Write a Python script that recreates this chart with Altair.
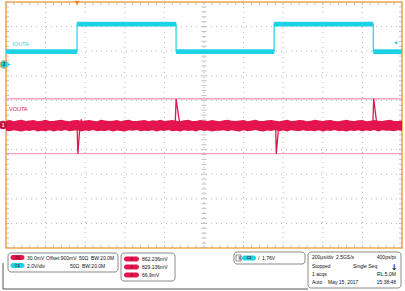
import altair as alt
import pandas as pd

# ---------------- scope settings (from the readout) ----------------
CH1_SCALE_MV = 30.0      # mV/div
CH1_OFFSET_MV = 900.0    # mV at channel position
CH1_POS_DIV = 0.0
CH2_SCALE_V = 2.0        # V/div
CH2_POS_DIV = 2.46
TRIG_LEVEL_V = 1.76
TRIG_TIME_US = -641

# ---------------- IOUTA (CH2) ----------------
ch2_t = [-1000, -641, -641, -141, -141, 354, 354, 855, 855, 1000]
ch2_v = [1.04, 1.04, 3.28, 3.28, 1.04, 1.04, 3.28, 3.28, 1.04, 1.04]
ch2_flat_start = [-1000, -641, -141, 354, 855]
ch2_flat_end = [-641, -141, 354, 855, 1000]
ch2_flat_v = [1.04, 3.28, 1.04, 3.28, 1.04]

# ---------------- VOUTA (CH1) noise envelope, mV ----------------
env_t = list(range(-1000, 1001, 20))
env_top_mv = [905.2, 906.0, 904.7, 905.8, 906.4, 904.9, 905.5, 906.1, 904.6, 905.3,
              906.3, 905.0, 904.8, 905.9, 906.5, 905.1, 904.5, 905.7, 906.2, 904.9,
              905.4, 906.0, 905.2, 904.7, 906.4, 905.6, 904.9, 905.3, 906.1, 904.6,
              905.8, 906.3, 905.0, 904.8, 905.5, 906.2, 904.7, 905.9, 905.1, 906.4,
              904.9, 905.4, 906.0, 905.2, 904.6, 905.7, 906.3, 905.0, 904.8, 906.1,
              905.5, 904.9, 906.2, 905.3, 904.7, 905.8, 906.5, 905.1, 904.9, 905.6,
              906.0, 904.6, 905.4, 906.3, 905.0, 904.8, 905.9, 906.2, 905.3, 904.7,
              905.5, 906.4, 904.9, 905.2, 906.0, 905.7, 904.6, 905.1, 906.3, 905.4,
              904.8, 905.9, 906.1, 905.0, 904.7, 905.6, 906.4, 905.2, 904.9, 905.8,
              906.0, 904.6, 905.3, 906.2, 905.1, 904.8, 905.7, 906.3, 905.0, 904.9,
              905.6]
env_bot_mv = [893.0, 892.3, 893.7, 892.6, 892.0, 893.4, 892.8, 893.9, 892.2, 893.1,
              892.5, 893.6, 892.1, 893.3, 892.7, 893.8, 892.4, 892.9, 893.5, 892.0,
              893.2, 892.6, 893.9, 892.3, 893.0, 892.8, 893.6, 892.1, 893.4, 892.7,
              892.2, 893.5, 892.9, 893.8, 892.4, 893.1, 892.6, 893.7, 892.0, 893.3,
              892.8, 893.9, 892.5, 893.0, 892.2, 893.6, 892.7, 893.2, 892.1, 893.8,
              892.6, 893.4, 892.0, 893.1, 892.9, 893.7, 892.3, 893.5, 892.8, 892.2,
              893.6, 892.4, 893.0, 893.9, 892.7, 892.1, 893.3, 892.6, 893.8, 892.5,
              893.2, 892.0, 893.5, 892.9, 892.3, 893.7, 892.8, 893.1, 892.4, 893.6,
              892.2, 893.4, 892.7, 893.9, 892.5, 893.0, 892.1, 893.3, 892.8, 893.7,
              892.3, 893.2, 892.6, 893.8, 892.0, 893.5, 892.9, 893.1, 892.4, 893.6,
              892.7]

# transient spikes on VOUTA
spike_id = [1, 1, 1, 1, 1, 2, 2, 2, 3, 3, 3, 4, 4, 4]
spike_t = [-641, -637, -628, -620, -614, -145, -141, -121, 362, 365, 376, 853, 857, 874]
spike_mv = [897, 865, 895, 907, 900, 902, 932, 899, 897, 865, 895, 902, 932, 899]

# cursor levels (mV)
cursor_mv = [931.95, 865.05]

# readout texts
meas_values = ["862.236mV", "829.136mV", "66.9mV"]

RED = "#e3144e"
CYAN = "#1cd3e4"
PINK = "#f4a2c0"
ORANGE = "#f2a848"
GRID = "#b8b8b8"
FONT = "Liberation Sans"
TXT = "#111111"


def ch1_div(mv):
    return CH1_POS_DIV + (mv - CH1_OFFSET_MV) / CH1_SCALE_MV


def ch2_div(v):
    return CH2_POS_DIV + v / CH2_SCALE_V


xs = alt.Scale(domain=[-1000, 1000], nice=False, zero=False)
ys = alt.Scale(domain=[-5, 5], nice=False, zero=False)
X = lambda f: alt.X(f, type="quantitative", scale=xs, axis=None)
Y = lambda f: alt.Y(f, type="quantitative", scale=ys, axis=None)

# ---------------- graticule ----------------
major_t = [k * 200 for k in range(-4, 5)]
major_d = [k for k in range(-4, 5)]
minor_t = [k * 40 for k in range(-25, 26)]
minor_d = [k * 0.2 for k in range(-25, 26)]

vgrid = alt.Chart(pd.DataFrame({"t": major_t})).mark_rule(
    color=GRID, strokeDash=[1, 4], strokeWidth=1).encode(x=X("t"))
hgrid = alt.Chart(pd.DataFrame({"d": major_d})).mark_rule(
    color=GRID, strokeDash=[1, 4], strokeWidth=1).encode(y=Y("d"))

tb = pd.DataFrame({"t": minor_t * 3,
                   "d": [5] * len(minor_t) + [-5] * len(minor_t) + [0] * len(minor_t),
                   "s": [6] * (2 * len(minor_t)) + [5] * len(minor_t)})
vticks = alt.Chart(tb).mark_tick(orient="vertical", thickness=1, color="#a8a8a8",
                                 clip=True).encode(x=X("t"), y=Y("d"),
                                                   size=alt.Size("s:Q", scale=None, legend=None))
lr = pd.DataFrame({"d": minor_d * 3,
                   "t": [-1000] * len(minor_d) + [1000] * len(minor_d) + [0] * len(minor_d),
                   "s": [6] * (2 * len(minor_d)) + [5] * len(minor_d)})
hticks = alt.Chart(lr).mark_tick(orient="horizontal", thickness=1, color="#a8a8a8",
                                 clip=True).encode(x=X("t"), y=Y("d"),
                                                   size=alt.Size("s:Q", scale=None, legend=None))

# ---------------- traces ----------------
cur = pd.DataFrame({"d": [ch1_div(v) for v in cursor_mv]})
cursors = alt.Chart(cur).mark_rule(color=PINK, strokeWidth=1.4).encode(y=Y("d"))

c2 = pd.DataFrame({"t": ch2_t, "d": [ch2_div(v) for v in ch2_v], "o": range(len(ch2_t))})
c2_line = alt.Chart(c2).mark_line(color=CYAN, strokeWidth=1.2).encode(
    x=X("t"), y=Y("d"), order="o:Q")
c2f = pd.DataFrame({"t": ch2_flat_start, "t2": ch2_flat_end,
                    "d": [ch2_div(v) for v in ch2_flat_v]})
c2_flat = alt.Chart(c2f).mark_rule(color=CYAN, strokeWidth=4.8, strokeCap="butt").encode(
    x=X("t"), x2="t2:Q", y=Y("d"))

env = pd.DataFrame({"t": env_t, "top": [ch1_div(v) for v in env_top_mv],
                    "bot": [ch1_div(v) for v in env_bot_mv]})
c1_band = alt.Chart(env).mark_area(color=RED, opacity=1).encode(
    x=X("t"), y=Y("top"), y2="bot:Q")
sp = pd.DataFrame({"id": spike_id, "t": spike_t, "d": [ch1_div(v) for v in spike_mv],
                   "o": range(len(spike_t))})
c1_spikes = alt.Chart(sp).mark_line(color=RED, strokeWidth=1.3).encode(
    x=X("t"), y=Y("d"), detail="id:N", order="o:Q")

# ---------------- labels and markers ----------------
lab = pd.DataFrame({"t": [-968, -985], "d": [3.30, 0.65], "txt": ["IOUTA", "VOUTA"],
                    "c": [CYAN, RED]})
labels = alt.Chart(lab).mark_text(align="left", baseline="middle", fontSize=5.5,
                                  font=FONT).encode(
    x=X("t"), y=Y("d"), text="txt:N", color=alt.Color("c:N", scale=None))

gnd = pd.DataFrame({"t": [-1010, -1015], "d": [CH2_POS_DIV, CH1_POS_DIV],
                    "fill": [CYAN, "#c0103e"], "stroke": [ORANGE, "#c0103e"],
                    "txt": ["2", "1"], "tc": ["#0a4a55", "#ffffff"]})
gnd_pts = alt.Chart(gnd).mark_point(shape="circle", filled=False, size=60, strokeWidth=1,
                                    opacity=1).encode(
    x=X("t"), y=Y("d"), fill=alt.Fill("fill:N", scale=None),
    stroke=alt.Stroke("stroke:N", scale=None))
gnd_txt = alt.Chart(gnd).mark_text(fontSize=5, font=FONT, fontWeight="bold").encode(
    x=X("t"), y=Y("d"), text="txt:N", color=alt.Color("tc:N", scale=None))
gnd_arrow = alt.Chart(pd.DataFrame({"t": [-982], "d": [CH2_POS_DIV]})).mark_point(
    shape="triangle-right", filled=True, size=10, color=CYAN, opacity=1).encode(
    x=X("t"), y=Y("d"))

trig_pos = alt.Chart(pd.DataFrame({"t": [TRIG_TIME_US], "d": [4.96]})).mark_point(
    shape="triangle-down", filled=True, size=28, color="#f08a30", opacity=1).encode(
    x=X("t"), y=Y("d"))
trig_lvl = alt.Chart(pd.DataFrame({"t": [968], "d": [ch2_div(TRIG_LEVEL_V)]})).mark_point(
    shape="triangle-left", filled=True, size=12, color=CYAN, opacity=1).encode(
    x=X("t"), y=Y("d"))

plot = alt.layer(vgrid, hgrid, vticks, hticks, cursors, c2_line, c2_flat, c1_band,
                 c1_spikes, labels, gnd_pts, gnd_txt, gnd_arrow, trig_pos, trig_lvl)

# ---------------- readout panel (pixel layout) ----------------
px = alt.Scale(domain=[6, 402], nice=False, zero=False)
py = alt.Scale(domain=[2, 248], nice=False, zero=False, reverse=True)
PX = lambda f: alt.X(f, type="quantitative", scale=px, axis=None)
PY = lambda f: alt.Y(f, type="quantitative", scale=py, axis=None)

frame = pd.DataFrame({"x": [3, 3], "x2": [3, 308], "y": [263, 289], "y2": [289, 289]})
frame_layer = alt.Chart(frame).mark_rule(color="#555555", strokeWidth=1).encode(
    x=PX("x"), x2="x2:Q", y=PY("y"), y2="y2:Q")

boxes = pd.DataFrame({"x": [8, 121, 234, 308], "x2": [118, 175, 305, 401],
                      "y": [253, 253, 252, 252], "y2": [272, 281, 264, 288]})
box_layer = alt.Chart(boxes).mark_rect(cornerRadius=3, fill="white", stroke="#8a8a8a",
                                       strokeWidth=1).encode(
    x=PX("x"), x2="x2:Q", y=PY("y"), y2="y2:Q")

pills = pd.DataFrame({
    "x": [10.5, 10.5, 124, 124, 124, 242],
    "x2": [24.5, 24.5, 139, 139, 139, 256],
    "y": [255, 263, 256.5, 264.5, 272.5, 255.5],
    "y2": [260, 268, 261.5, 269.5, 277.5, 260.5],
    "c": [RED, CYAN, RED, RED, RED, CYAN],
    "lab": ["C1", "C2", "1", "1", "1", "C2"]})
pills["cx"] = (pills.x + pills.x2) / 2
pills["cy"] = (pills.y + pills.y2) / 2
pill_layer = alt.Chart(pills).mark_rect(cornerRadius=2.5).encode(
    x=PX("x"), x2="x2:Q", y=PY("y"), y2="y2:Q", color=alt.Color("c:N", scale=None))
pill_txt = alt.Chart(pills).mark_text(fontSize=3.6, font=FONT, fontWeight="bold",
                                      color="#5a0a1a").encode(
    x=PX("cx"), y=PY("cy"), text="lab:N")

kbox = alt.Chart(pd.DataFrame({"x": [236], "x2": [241], "y": [255], "y2": [261]})).mark_rect(
    fill="white", stroke="#777777", strokeWidth=0.8).encode(
    x=PX("x"), x2="x2:Q", y=PY("y"), y2="y2:Q")

left_txt = pd.DataFrame({
    "x": [27, 46, 79, 91, 27, 70, 82,
          142, 142, 142,
          238.5, 258, 262,
          312, 336, 312, 353, 312, 312, 328],
    "y": [257.5, 257.5, 257.5, 257.5, 265.5, 265.5, 265.5,
          259, 267, 275,
          258, 258, 258,
          257, 257, 265.5, 265.5, 274, 282, 282],
    "txt": ["30.0mV", "Offset:900mV", "50Ω", "BW:20.0M", "2.0V/div", "50Ω", "BW:20.0M",
            meas_values[0], meas_values[1], meas_values[2],
            "K", "/", "1.76V",
            "200µs/div", "2.5GS/s", "Stopped", "Single Seq", "1 acqs", "Auto", "May 15, 2017"]})
ltxt = alt.Chart(left_txt).mark_text(align="left", baseline="middle", fontSize=5,
                                     font=FONT, color=TXT).encode(
    x=PX("x"), y=PY("y"), text="txt:N")
right_txt = pd.DataFrame({"x": [396, 396, 396], "y": [257, 274, 282],
                          "txt": ["400ps/pt", "RL:5.0M", "15:38:48"]})
rtxt = alt.Chart(right_txt).mark_text(align="right", baseline="middle", fontSize=5,
                                      font=FONT, color=TXT).encode(
    x=PX("x"), y=PY("y"), text="txt:N")
arrow = alt.Chart(pd.DataFrame({"x": [394], "y": [267.5], "txt": ["↓"]})).mark_text(
    fontSize=8, font="DejaVu Sans", fontWeight="bold", color=TXT).encode(
    x=PX("x"), y=PY("y"), text="txt:N")

panel = alt.layer(frame_layer, box_layer, pill_layer, pill_txt, kbox, ltxt, rtxt, arrow)

chart = alt.layer(plot, panel).resolve_scale(x="independent", y="independent").properties(
    width=396, height=246,
    padding={"left": 6, "top": 2, "right": 3, "bottom": 43},
    autosize=alt.AutoSizeParams(type="none"),
    background="white",
).configure_view(stroke=ORANGE, strokeWidth=1.6)

chart.save("out.html", embed_options={"renderer": "svg", "actions": False})
